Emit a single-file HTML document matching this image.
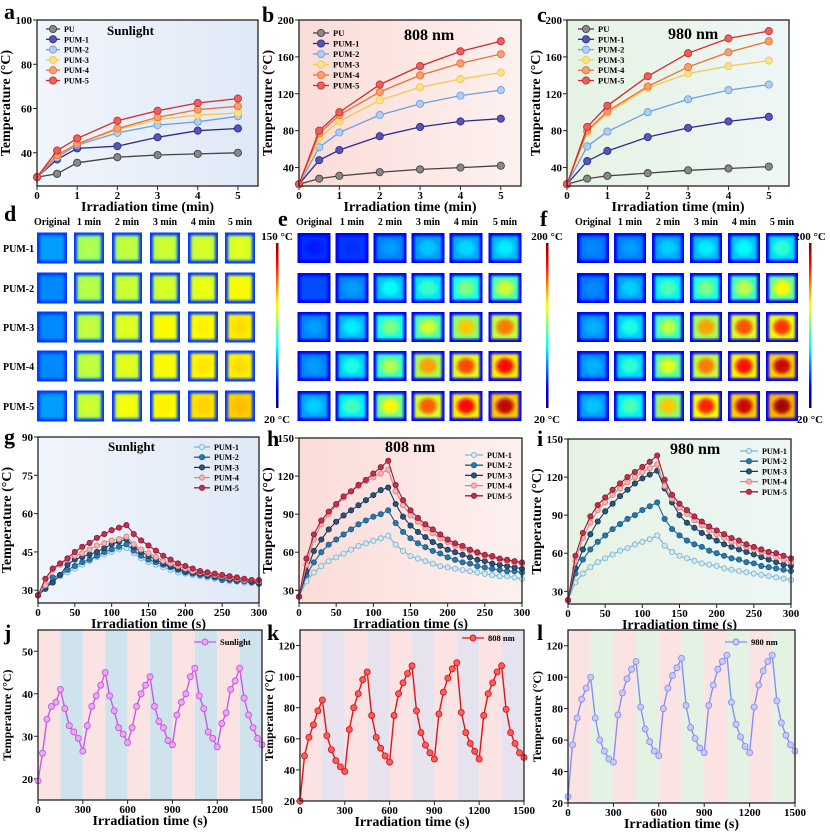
<!DOCTYPE html>
<html><head><meta charset="utf-8">
<style>
html,body{margin:0;padding:0;background:#fff;}
svg{display:block;font-family:"Liberation Serif",serif;font-weight:bold;}
</style></head>
<body>
<svg id="fig" width="830" height="832" viewBox="0 0 830 832" xmlns="http://www.w3.org/2000/svg"></svg>
<script>
// ---------- DATA ----------
const minX = [0,0.5,1,2,3,4,5];
const seriesNames6 = ["PU","PUM-1","PUM-2","PUM-3","PUM-4","PUM-5"];
const aPU   = [29,30.5,35.5,38,39,39.5,40];
const aPUM1 = [29,37,42,43,47,50,51];
const aPUM2 = [29,38,43.5,49,52.5,54,56.5];
const aPUM3 = [29,38.5,44,50.5,55,57,58];
const aPUM4 = [29,39,44,51,56,59.5,61];
const aPUM5 = [29,41,46.5,54.5,59,62.5,64.5];
const bPU   = [22,28,31,35,38,40,42];
const bPUM1 = [22,48,59,74,84,90,93];
const bPUM2 = [22,62,78,97,109,118,124];
const bPUM3 = [22,72,90,113,127,136,143];
const bPUM4 = [22,77,97,122,140,153,163];
const bPUM5 = [22,80,100,130,150,166,177];
const cPU   = [22,28,31,34,37,39,41];
const cPUM1 = [22,47,58,73,83,90,95];
const cPUM2 = [22,63,79,100,114,124,130];
const cPUM3 = [22,78,99,126,142,150,156];
const cPUM4 = [22,80,101,128,149,165,177];
const cPUM5 = [22,84,107,139,164,180,188];

const secX = [0,10,20,30,40,50,60,70,80,90,100,110,120,130,140,150,160,170,180,190,200,210,220,230,240,250,260,270,280,290,300];
const seriesNames5 = ["PUM-1","PUM-2","PUM-3","PUM-4","PUM-5"];
const gPUM1 = [28,31,33.5,35.5,37,38.5,40,41.5,43,44,45,46,46.5,44.5,42.5,41,40,39,38,37,36.5,36,35.5,35,34.5,34,33.5,33.5,33,33,32.5];
const gPUM2 = [28,30.5,35,36,38,39.5,41,42,43.5,45,46,47,48,45.5,43.5,42,41,40,39,38,37,36.5,36,35.5,35,34,34,33.5,33.5,33,32.5];
const gPUM3 = [28,31,33,36,40,42,43,44,45,46.5,48,49,50,47,45,43.5,42,40.5,39.5,38.5,37.5,37,36.5,36,35.5,35,34.5,34,34,33.5,33];
const gPUM4 = [28,32,38,40,42,43.5,44.5,46,47.5,48.5,49.5,50,51,48,46,44.5,43,41.5,40.5,39.5,38.5,37.5,37,36.5,36,35.5,35,34.5,34,34,33.5];
const gPUM5 = [28,34.5,38.5,40.5,42.5,45,47,48.5,50.5,52,53.5,54.5,55.5,52,49.5,47.5,45.5,43.5,42,40.5,39.5,38.5,37.5,37,36.5,36,35.5,35,34.5,34,34];
const hPUM1 = [25,37,44,49,53,56,59,62,65,67,69,71,73,66,61,57,55,53,51,49,48,47,46,45,44,43,42,41,41,40,39];
const hPUM2 = [25,42,52,60,66,70,74,78,82,85,88,90,93,83,76,71,67,64,61,59,56,54,52,51,49,48,47,46,45,45,44];
const hPUM3 = [25,45,61,70,78,84,89,93,97,101,105,109,111,98,88,81,76,72,68,65,62,60,58,56,54,53,51,50,49,48,47];
const hPUM4 = [25,50,70,82,90,97,103,108,112,116,119,122,125,108,97,89,84,79,75,71,68,65,63,61,59,57,56,54,53,52,51];
const hPUM5 = [25,55,74,85,92,98,104,108,113,117,122,127,132,113,101,93,87,82,78,74,70,67,65,62,60,58,57,55,54,53,52];
const iPUM1 = [23,37,44,49,53,56,59,62,64,67,69,71,74,66,61,58,56,54,52,51,50,48,47,46,45,44,43,42,41,40,39];
const iPUM2 = [23,44,55,63,69,74,79,83,87,90,94,97,100,87,79,74,70,67,65,62,60,58,56,55,53,52,50,49,48,47,46];
const iPUM3 = [23,48,63,75,85,93,99,105,110,115,119,122,125,111,100,90,84,80,76,73,70,67,65,63,61,59,57,55,53,51,50];
const iPUM4 = [23,54,72,84,94,100,106,111,116,120,124,127,130,113,103,96,91,86,82,78,75,72,69,67,65,63,61,59,57,55,53];
const iPUM5 = [23,58,76,89,98,104,110,115,120,124,128,132,137,118,106,99,94,89,85,81,78,75,72,70,67,65,63,61,60,58,56];

const cycX = [0,30,60,90,120,150,180,210,240,270,300,330,360,390,420,450,480,510,540,570,600,630,660,690,720,750,780,810,840,870,900,930,960,990,1020,1050,1080,1110,1140,1170,1200,1230,1260,1290,1320,1350,1380,1410,1440,1470,1500];
const jSun = [19.5,26,34,37,38,41,36.5,32.5,31,29.5,26.5,32.5,37,39.5,42,45,39.5,36,32,30.5,28.5,32,37,40,42,44,37,33.5,32,29,28,35,38,40,44,46,39.5,36.5,31,29.5,27.5,33,35.5,41,43,46,39,35,32,29.5,28];
const k808 = [20,49,61,69,78,85,62,53,46,42,39,66,80,89,98,103,75,61,54,49,45,75,89,96,102,107,78,64,56,51,47,76,90,99,105,109,77,64,57,52,47,75,89,96,103,107,79,64,57,51,48];
const l980 = [24,57,74,86,93,100,74,60,53,48,46,76,90,99,105,110,81,67,59,53,50,80,93,101,106,112,82,68,61,55,52,82,95,105,110,114,84,70,62,56,52,81,95,104,110,114,85,71,63,57,53];

const timeCols = ["Original","1 min","2 min","3 min","4 min","5 min"];
const dLevels = [[0.30,0.55,0.57,0.58,0.59,0.60],[0.28,0.56,0.58,0.59,0.61,0.63],[0.28,0.57,0.60,0.63,0.64,0.66],[0.28,0.57,0.60,0.63,0.65,0.66],[0.30,0.58,0.62,0.64,0.67,0.69]];
const eLevels = [[0.15,0.17,0.28,0.32,0.34,0.36],[0.20,0.28,0.38,0.43,0.50,0.58],[0.28,0.36,0.50,0.58,0.68,0.76],[0.28,0.40,0.55,0.72,0.81,0.88],[0.33,0.44,0.63,0.79,0.88,0.94]];
const fLevels = [[0.26,0.28,0.33,0.36,0.38,0.42],[0.26,0.33,0.45,0.50,0.56,0.63],[0.30,0.40,0.56,0.72,0.80,0.83],[0.30,0.42,0.60,0.76,0.87,0.93],[0.32,0.45,0.68,0.85,0.93,0.97]];

// ---------- DRAWING ----------
const NS="http://www.w3.org/2000/svg";
const svg=document.getElementById('fig');
function mk(tag,parent){const e=document.createElementNS(NS,tag);(parent||svg).appendChild(e);return e;}
function txt(parent,x,y,s,size,anchor){const t=mk('text',parent);t.setAttribute('x',x);t.setAttribute('y',y);t.setAttribute('font-size',size);t.setAttribute('text-anchor',anchor||'start');t.textContent=s;return t;}

function jet(v){
  v=Math.max(0,Math.min(1,v));
  const stops=[[0,[0,0,127]],[0.125,[0,0,255]],[0.375,[0,255,255]],[0.625,[255,255,0]],[0.875,[255,0,0]],[1,[127,0,0]]];
  for(let i=1;i<stops.length;i++){if(v<=stops[i][0]){const a=stops[i-1],b=stops[i];const t=(v-a[0])/(b[0]-a[0]);
    return 'rgb('+a[1].map((c,k)=>Math.round(c+(b[1][k]-c)*t)).join(',')+')';}}
  return 'rgb(127,0,0)';
}

const defs=mk('defs');
function bgGrad(id,c1,c2){const g=mk('linearGradient',defs);g.setAttribute('id',id);g.setAttribute('x1','0');g.setAttribute('x2','1');
  const s1=mk('stop',g);s1.setAttribute('offset','0');s1.setAttribute('stop-color',c1);
  const s2=mk('stop',g);s2.setAttribute('offset','1');s2.setAttribute('stop-color',c2);}
bgGrad('gBlue','#f1f5fc','#dfe9f6');bgGrad('gPink','#fbdcd8','#fcf1ef');bgGrad('gGreen','#e6f3e3','#eef6f6');
const blur=mk('filter',defs);blur.setAttribute('id','soft');blur.setAttribute('x','-20%');blur.setAttribute('y','-20%');blur.setAttribute('width','140%');blur.setAttribute('height','140%');
const fb=mk('feGaussianBlur',blur);fb.setAttribute('stdDeviation','1.2');

function chart(c){
  const g=mk('g');
  
  
  const sx=v=>c.L+(v-c.xd[0])/(c.xd[1]-c.xd[0])*(c.R-c.L);
  const sy=v=>c.B-(v-c.yd[0])/(c.yd[1]-c.yd[0])*(c.B-c.T);
  if(c.bands){
    for(let s=0;s<c.xd[1];s+=150){const r=mk('rect',g);r.setAttribute('x',sx(s));r.setAttribute('y',c.T);r.setAttribute('width',sx(s+150)-sx(s));r.setAttribute('height',c.B-c.T);
      r.setAttribute('fill',(s/150)%2===0?'#fbe3e3':c.bands);
      
      }
  } else {
    const bg=mk('rect',g);bg.setAttribute('x',c.L);bg.setAttribute('y',c.T);bg.setAttribute('width',c.R-c.L);bg.setAttribute('height',c.B-c.T);bg.setAttribute('fill',c.bg);
    
    
  }
  const ax=mk('g',g);
  
  
  c.xt.forEach(v=>{const l=mk('line',ax);l.setAttribute('x1',sx(v));l.setAttribute('x2',sx(v));l.setAttribute('y1',c.B);l.setAttribute('y2',c.B+4);l.setAttribute('stroke','#222');
    const t=txt(ax,sx(v),c.B+13,String(v),11,'middle');
    
    });
  const ay=mk('g',g);
  
  
  c.yt.forEach(v=>{const l=mk('line',ay);l.setAttribute('x1',c.L-4);l.setAttribute('x2',c.L);l.setAttribute('y1',sy(v));l.setAttribute('y2',sy(v));l.setAttribute('stroke','#222');
    const t=txt(ay,c.L-5,sy(v)+4,String(v),11,'end');
    
    });
  const xt=txt(g,(c.L+c.R)/2,c.B+25,c.xlabel,14,'middle');
  
  
  const yx=c.L-27,yy=(c.T+c.B)/2;
  const yt=txt(g,yx,yy,'Temperature (°C)',c.ysize||14,'middle');yt.setAttribute('transform','rotate(-90 '+yx+' '+yy+')');
  
  
  c.series.forEach((s,i)=>{
    const sg=mk('g',g);
    
    
    const p=mk('path',sg);p.setAttribute('d',s.y.map((v,k)=>(k?'L':'M')+sx(c.x[k]).toFixed(1)+' '+sy(v).toFixed(1)).join(''));
    p.setAttribute('fill','none');p.setAttribute('stroke',s.color);p.setAttribute('stroke-width',c.lw||1.3);
    s.y.forEach((v,k)=>{const m=mk('circle',sg);m.setAttribute('cx',sx(c.x[k]));m.setAttribute('cy',sy(v));m.setAttribute('r',c.mr);
      m.setAttribute('fill',s.fill);m.setAttribute('stroke',s.color);m.setAttribute('stroke-width',0.9);
      
      });
    const lx=c.lg[0],ly=c.lg[1]+i*c.lg[2];
    const le=mk('g',g);
    
    
    const ll=mk('line',le);ll.setAttribute('x1',lx);ll.setAttribute('x2',lx+c.lg[3]);ll.setAttribute('y1',ly);ll.setAttribute('y2',ly);ll.setAttribute('stroke',s.color);ll.setAttribute('stroke-width',1.3);
    const lc=mk('circle',le);lc.setAttribute('cx',lx+c.lg[3]/2);lc.setAttribute('cy',ly);lc.setAttribute('r',c.mr);lc.setAttribute('fill',s.fill);lc.setAttribute('stroke',s.color);lc.setAttribute('stroke-width',0.9);
    txt(le,lx+c.lg[3]+4,ly+3,s.label,c.lg[4],'start');
  });
  if(c.title){const t=txt(g,c.title[0],c.title[1],c.title[2],c.title[3],'start');
    
    }
  const fr=mk('rect',g);fr.setAttribute('x',c.L);fr.setAttribute('y',c.T);fr.setAttribute('width',c.R-c.L);fr.setAttribute('height',c.B-c.T);fr.setAttribute('fill','none');fr.setAttribute('stroke','#222');fr.setAttribute('stroke-width',1.3);
  
  
}

const col6=[['#444','#888'],['#2c2c8c','#5656b8'],['#6f9fe0','#b0cdf2'],['#f2c84e','#fbe08a'],['#ec7033','#f5a070'],['#d32b2b','#e86060']];
const col5=[['#7fb6d2','#d4e9f3'],['#1a6390','#2a78a8'],['#193a58','#2c5478'],['#e0827f','#f2b6b4'],['#9a1a34','#c03050']];
function S(names,arrs,cols){return arrs.map((a,i)=>({label:names[i],y:a,color:cols[i][0],fill:cols[i][1]}));}

const tmin='Irradiation time (min)',tsec='Irradiation time (s)';
chart({name:'chart-a-sunlight',L:37,R:258,T:20,B:186,xd:[0,5.5],yd:[25,100],xt:[0,1,2,3,4,5],yt:[40,60,80,100],x:minX,bg:'url(#gBlue)',xlabel:tmin,mr:3.6,
  series:S(seriesNames6,[aPU,aPUM1,aPUM2,aPUM3,aPUM4,aPUM5],col6),lg:[46,29,10.3,14,8],title:[107,35,'Sunlight',13]});
chart({name:'chart-b-808nm',L:299,R:521,T:20,B:186,xd:[0,5.5],yd:[20,200],xt:[0,1,2,3,4,5],yt:[40,80,120,160,200],x:minX,bg:'url(#gPink)',xlabel:tmin,mr:3.6,
  series:S(seriesNames6,[bPU,bPUM1,bPUM2,bPUM3,bPUM4,bPUM5],col6),lg:[313,33,10.5,16,8.5],title:[404,40,'808 nm',16]});
chart({name:'chart-c-980nm',L:567,R:789,T:20,B:186,xd:[0,5.5],yd:[20,200],xt:[0,1,2,3,4,5],yt:[40,80,120,160,200],x:minX,bg:'url(#gGreen)',xlabel:tmin,mr:3.6,
  series:S(seriesNames6,[cPU,cPUM1,cPUM2,cPUM3,cPUM4,cPUM5],col6),lg:[578,29,10.3,16,8.5],title:[668,39,'980 nm',16]});

chart({name:'chart-g-sunlight-cooling',L:38,R:259,T:437,B:603,xd:[0,300],yd:[25,90],xt:[0,50,100,150,200,250,300],yt:[30,45,60,75,90],x:secX,bg:'url(#gBlue)',xlabel:tsec,mr:2.6,lw:1.1,
  series:S(seriesNames5,[gPUM1,gPUM2,gPUM3,gPUM4,gPUM5],col5),lg:[194,447,10.2,16,8],title:[108,451,'Sunlight',13]});
chart({name:'chart-h-808nm-cooling',L:299,R:522,T:438,B:603,xd:[0,300],yd:[20,150],xt:[0,50,100,150,200,250,300],yt:[30,60,90,120,150],x:secX,bg:'url(#gPink)',xlabel:tsec,mr:2.6,lw:1.1,
  series:S(seriesNames5,[hPUM1,hPUM2,hPUM3,hPUM4,hPUM5],col5),lg:[465,455,10.2,18,8],title:[385,452,'808 nm',16]});
chart({name:'chart-i-980nm-cooling',L:568,R:791,T:439,B:604,xd:[0,300],yd:[20,150],xt:[0,50,100,150,200,250,300],yt:[30,60,90,120,150],x:secX,bg:'url(#gGreen)',xlabel:tsec,mr:2.6,lw:1.1,
  series:S(seriesNames5,[iPUM1,iPUM2,iPUM3,iPUM4,iPUM5],col5),lg:[740,451,10.2,18,8],title:[670,454,'980 nm',16]});

chart({name:'chart-j-sunlight-cycling',L:38,R:262,T:630,B:800,xd:[0,1500],yd:[15,55],xt:[0,300,600,900,1200,1500],yt:[20,30,40,50],x:cycX,bands:'#cfe3ec',xlabel:tsec,mr:3,lw:1.4,ysize:12,
  series:[{label:'Sunlight',y:jSun,color:'#c95ae0',fill:'#e8a8f4'}],lg:[194,642,0,22,8.5]});
chart({name:'chart-k-808nm-cycling',L:300,R:524,T:630,B:801,xd:[0,1500],yd:[20,130],xt:[0,300,600,900,1200,1500],yt:[20,40,60,80,100,120],x:cycX,bands:'#e6e3ee',xlabel:tsec,mr:3,lw:1.4,ysize:12,
  series:[{label:'808 nm',y:k808,color:'#e01414',fill:'#f26060'}],lg:[462,638,0,22,8.5]});
chart({name:'chart-l-980nm-cycling',L:568,R:795,T:630,B:803,xd:[0,1500],yd:[20,130],xt:[0,300,600,900,1200,1500],yt:[20,40,60,80,100,120],x:cycX,bands:'#e3f2e2',xlabel:tsec,mr:3,lw:1.4,ysize:12,
  series:[{label:'980 nm',y:l980,color:'#8a8ff0',fill:'#c8cbfa'}],lg:[725,642,0,22,8.5]});

// ---------- thermal image grids ----------
function grid(name,levels,centers,w,h,rowsY,colorbarX,topLabel,labelRows){
  const g=mk('g');
  
  
  timeCols.forEach((s,i)=>{const t=txt(g,centers[i],225,s,10,'middle');
    
    });
  levels.forEach((row,r)=>{
    if(labelRows){const t=txt(g,3,rowsY[r]+4,'PUM-'+(r+1),10,'start');
      
      }
    row.forEach((v,k)=>{
      const x=centers[k]-w/2,y=rowsY[r]-h/2;
      const cell=mk('g',g);
      
      
      const edge=labelRows?0.18:0.12;
      const outer=mk('rect',cell);outer.setAttribute('x',x);outer.setAttribute('y',y);outer.setAttribute('width',w);outer.setAttribute('height',h);outer.setAttribute('fill',jet(edge));
      const base=labelRows?v-0.02:Math.max(edge+0.05,v-(v-0.2)*0.35);
      const inner=mk('rect',cell);inner.setAttribute('x',x+3);inner.setAttribute('y',y+3);inner.setAttribute('width',w-6);inner.setAttribute('height',h-6);inner.setAttribute('fill',jet(base));inner.setAttribute('filter','url(#soft)');
      if(!labelRows || k>0){
        const id=name+'-'+r+'-'+k;
        const rg=mk('radialGradient',defs);rg.setAttribute('id',id);
        [[0,1],[0.45,0.9],[0.85,0]].forEach(st=>{const e=mk('stop',rg);e.setAttribute('offset',st[0]);e.setAttribute('stop-color',jet(v));e.setAttribute('stop-opacity',st[1]);});
        const hot=mk('rect',cell);hot.setAttribute('x',x+3);hot.setAttribute('y',y+3);hot.setAttribute('width',w-6);hot.setAttribute('height',h-6);hot.setAttribute('fill','url(#'+id+')');
      }
    });
  });
  const cg=mk('linearGradient',defs);cg.setAttribute('id',name+'-cb');cg.setAttribute('x1','0');cg.setAttribute('y1','1');cg.setAttribute('x2','0');cg.setAttribute('y2','0');
  for(let i=0;i<=8;i++){const e=mk('stop',cg);e.setAttribute('offset',i/8);e.setAttribute('stop-color',jet(i/8));}
  const cb=mk('rect',g);cb.setAttribute('x',colorbarX);cb.setAttribute('y',243);cb.setAttribute('width',2.5);cb.setAttribute('height',165);cb.setAttribute('fill','url(#'+name+'-cb)');
  
  
  const t1=txt(g,colorbarX+1,240,topLabel,11,'middle');
  
  
  const t2=txt(g,colorbarX+1,423,'20 °C',11,'middle');
  
  
}
const rowsY=[248,288,327,366,406];
grid('thermal-grid-d-sunlight',dLevels,[52,89,127,165,203,240],30,31,rowsY,276,'150 °C',true);
grid('thermal-grid-e-808nm',eLevels,[314,352,390,428,466,505],33,30,rowsY,546,'200 °C',false);
grid('thermal-grid-f-980nm',fLevels,[593,630,668,706,744,782],32,30,rowsY,809,'200 °C',false);

// panel letters
[['a',4,19],['b',262,22],['c',537,22],['d',4,221],['e',278,226],['f',540,226],['g',4,444],['h',267,446],['i',537,446],['j',4,640],['k',267,640],['l',537,640]].forEach(p=>{
  const t=txt(svg,p[1],p[2],p[0],22,'start');
  
  
});
</script>
</body></html>
